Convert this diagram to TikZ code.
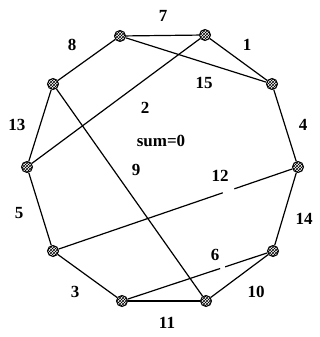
\documentclass[tikz,border=0pt]{standalone}
\usepackage{fontspec}
\setmainfont{Liberation Serif}
\usetikzlibrary{patterns}
\begin{document}
\begin{tikzpicture}[x=1pt,y=-1pt,
  vtx/.style={circle, draw=black, line width=1pt, pattern=crosshatch, pattern color=black, minimum size=11pt, inner sep=0pt},
  edge/.style={line width=1.2pt, draw=black},
  lbl/.style={font=\bfseries\fontsize{17}{17}\selectfont, inner sep=0pt},
  gapbox/.style={fill=white, inner sep=0pt, minimum height=4pt, sloped}]
\useasboundingbox (0,0) rectangle (320,337);
% vertices
\node[vtx] (v1) at (120,36) {};
\node[vtx] (v2) at (205,35) {};
\node[vtx] (v3) at (272,84) {};
\node[vtx] (v4) at (298,167) {};
\node[vtx] (v5) at (273,251) {};
\node[vtx] (v6) at (206,301) {};
\node[vtx] (v7) at (122,301) {};
\node[vtx] (v8) at (53,251) {};
\node[vtx] (v9) at (27,167) {};
\node[vtx] (v10) at (53,84) {};
% outer edges
\draw[edge] (v1) -- (v2);
\draw[edge] (v2) -- (v3);
\draw[edge] (v3) -- (v4);
\draw[edge] (v4) -- (v5);
\draw[edge] (v5) -- (v6);
\draw[edge] (v6) -- (v7);
\draw[edge] (v7) -- (v8);
\draw[edge] (v8) -- (v9);
\draw[edge] (v9) -- (v10);
\draw[edge] (v10) -- (v1);
% chords
\draw[edge] (v1) -- (v3);
\draw[edge] (v2) -- (v9);
\draw[edge] (v10) -- (v6);
\draw[edge] (v8) -- node[gapbox, pos=0.727, minimum width=12pt] {} (v4);
\draw[edge] (v7) -- node[gapbox, pos=0.68, minimum width=5pt] {} (v5);
% labels
\node[lbl] (l7) at (163,16) {7};
\node[lbl] (l8) at (72,45) {8};
\node[lbl] (l1) at (247,45) {1};
\node[lbl] (l15) at (204,83) {15};
\node[lbl] (l2) at (145,108) {2};
\node[lbl] (l13) at (17,125) {13};
\node[lbl] (l4) at (303,125) {4};
\node[lbl] (lsum) at (161,141) {sum=0};
\node[lbl] (l9) at (136,170) {9};
\node[lbl] (l12) at (220,176) {12};
\node[lbl] (l5) at (19,213) {5};
\node[lbl] (l14) at (304,219) {14};
\node[lbl] (l6) at (215,255) {6};
\node[lbl] (l3) at (75,292) {3};
\node[lbl] (l10) at (256,292) {10};
\node[lbl] (l11) at (167,323) {11};
\end{tikzpicture}
\end{document}
